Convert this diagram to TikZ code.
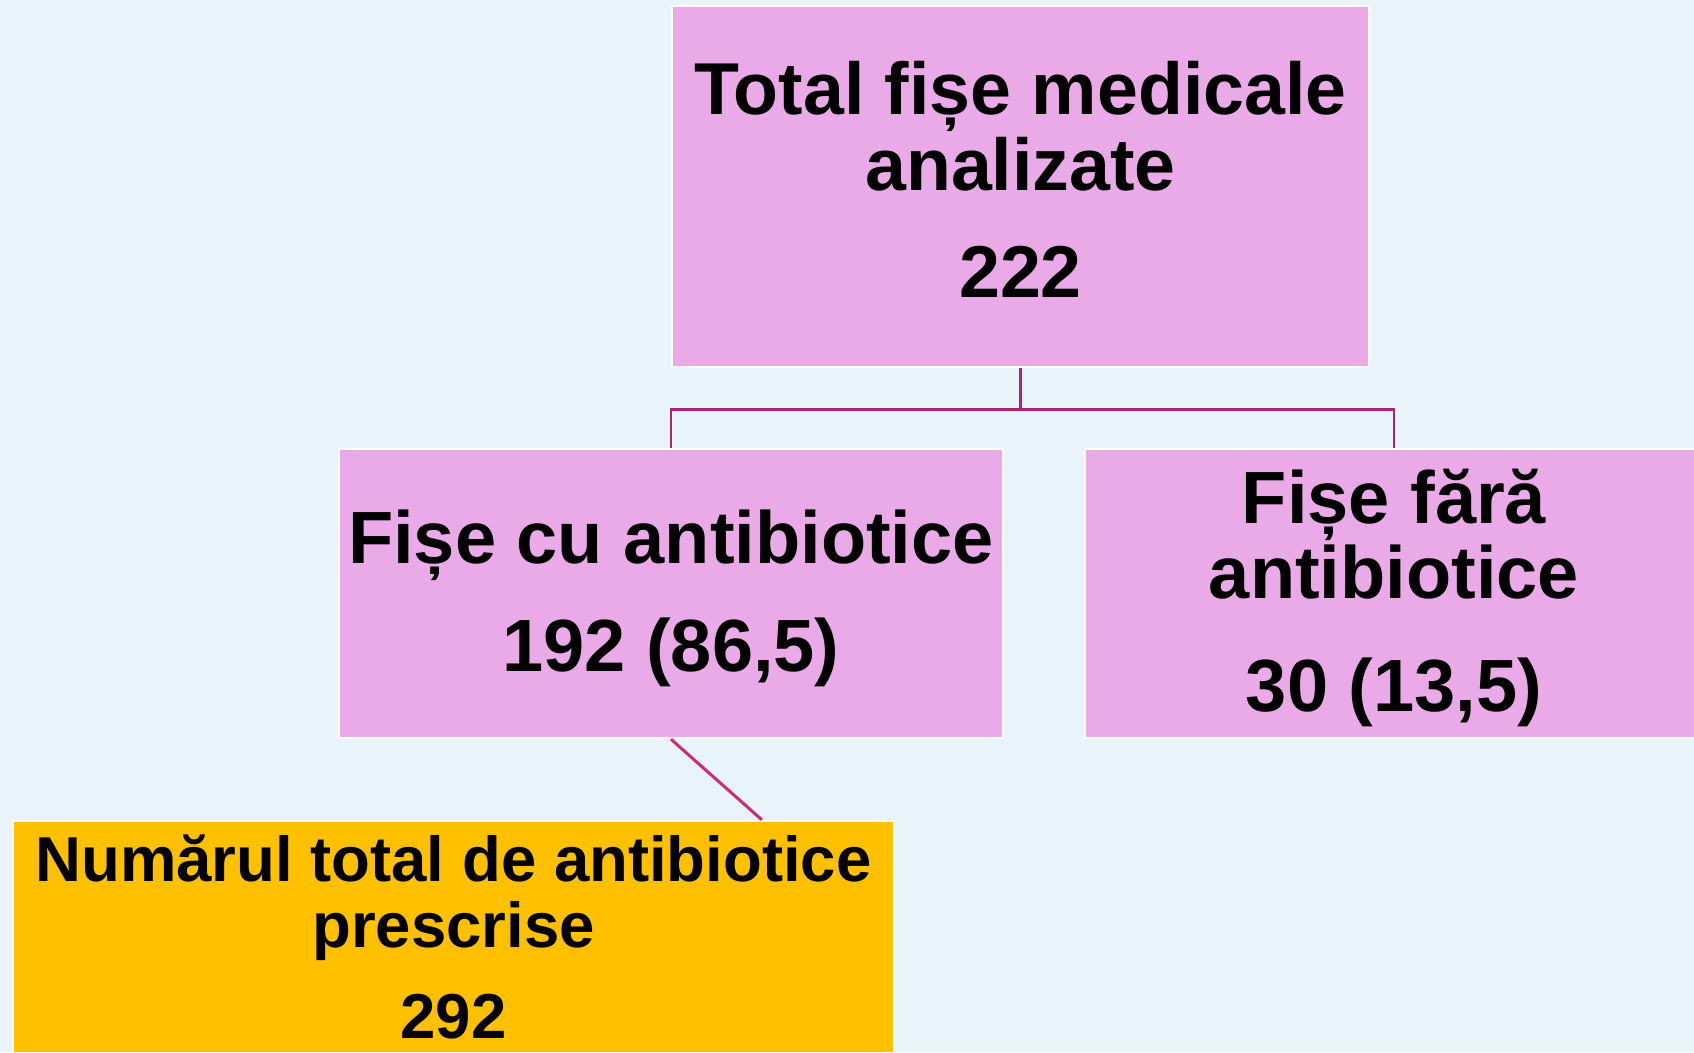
\documentclass[tikz,border=0pt]{standalone}
\usepackage{fontspec}
\setmainfont{Liberation Sans}
\usetikzlibrary{calc}
\definecolor{bgblue}{HTML}{E9F4FA}
\definecolor{boxpink}{HTML}{EAAAE8}
\definecolor{boxorange}{HTML}{FFC000}
\definecolor{treeline}{HTML}{B0226F}
\definecolor{diagline}{HTML}{D2287C}
\begin{document}
\begin{tikzpicture}[x=1pt,y=-1pt,
  box/.style={draw=white, line width=2.5pt, inner sep=0pt, align=center},
  pinkbox/.style={box, fill=boxpink},
  orangebox/.style={box, fill=boxorange},
  tree/.style={draw=treeline, line width=2.8pt},
  diag/.style={draw=diagline, line width=3pt}]
\fill[bgblue] (0,0) rectangle (1694,1052);
\useasboundingbox (0,0) rectangle (1694,1052);

\node[pinkbox, minimum width=697pt, minimum height=361pt, text depth=14pt,
  font=\bfseries\fontsize{73.5}{75.6}\selectfont] (top) at (1020.5,186.5)
  {Total fișe medicale\\analizate\\[32pt]222};
\node[pinkbox, minimum width=664pt, minimum height=289pt, text depth=6pt,
  font=\bfseries\fontsize{74}{76}\selectfont] (cu) at (671,593.5)
  {Fișe cu antibiotice\\[32pt]192 (86,5)};
\node[pinkbox, minimum width=618pt, minimum height=289pt, text depth=6pt,
  font=\bfseries\fontsize{74}{75}\selectfont] (fara) at (1394,593.5)
  {Fișe fără\\antibiotice\\[38pt]30 (13,5)};
\node[orangebox, minimum width=881pt, minimum height=232pt,
  font=\bfseries\fontsize{63.5}{66}\selectfont] (total) at (453.5,937)
  {Numărul total de antibiotice\\prescrise\\[25pt]292};

\coordinate (fork) at ($(top.south)+(0,41)$);
\draw[tree] (top.south) -- (fork) -| (cu.north);
\draw[tree] (fork) -| (fara.north);
\path (total.north west) ++(750,0) coordinate (tin);
\draw[diag] (cu.south) -- (tin);
\end{tikzpicture}
\end{document}
